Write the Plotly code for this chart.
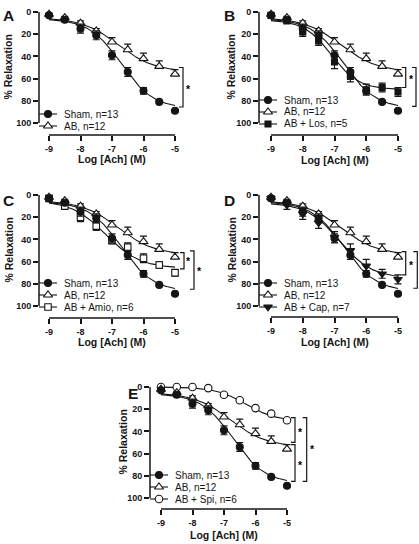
import numpy as np
import plotly.graph_objects as go

W, H = 419, 544
INK = "#151515"
FONT = "Liberation Sans, Arial, Helvetica, sans-serif"

# ---------------- data ----------------
LOG_ACH = [-9, -8.5, -8, -7.5, -7, -6.5, -6, -5.5, -5]
X_TICKS = [-9, -8, -7, -6, -5]
X_TICK_LABELS = ["-9", "-8", "-7", "-6", "-5"]
Y_TICKS = [0, 20, 40, 60, 80, 100]
Y_TICK_LABELS = ["0", "20", "40", "60", "80", "100"]

SHAM = [3, 7, 15, 21, 39, 54, 71, 81, 89]
SHAM_ERR = [1, 2, 4, 4, 4, 4, 3, 1, 1]
AB = [2, 5, 10, 17, 27, 34, 42, 49, 56]
AB_ERR = [1, 1, 2, 2, 4, 5, 5, 5, 4]
LOS = [3, 8, 18, 26, 45, 58, 70, 68, 72]
LOS_ERR = [1, 2, 4, 4, 6, 5, 5, 4, 4]
AMIO = [3, 10, 20, 28, 41, 47, 57, 63, 70]
AMIO_ERR = [1, 2, 4, 4, 3, 4, 4, 3, 3]
CAP = [3, 9, 17, 25, 38, 50, 64, 71, 76]
CAP_ERR = [2, 4, 5, 5, 5, 6, 6, 4, 4]
SPI = [0, 0, 0, 1, 7, 12, 19, 24, 30]
SPI_ERR = [1, 1, 1, 1, 1, 1, 1, 1, 1]

# sigmoidal fit parameters:
# [value at low conc, value at high conc, logEC50, hill slope]
SHAM_FIT = [6, 87, -6.71, 0.85]
AB_FIT = [5, 54, -6.8, 0.75]
LOS_FIT = [7, 70, -7.1, 1.0]
AMIO_FIT = [5, 66, -7.2, 0.8]
CAP_FIT = [7, 75, -6.85, 0.85]
SPI_FIT = [0, 31, -6.3, 0.9]

GROUPS = {
    "sham": dict(name="Sham, n=13", y=SHAM, err=SHAM_ERR, fit=SHAM_FIT,
                 symbol="circle", fill=INK, size=7, up_only=False),
    "ab": dict(name="AB, n=12", y=AB, err=AB_ERR, fit=AB_FIT,
               symbol="triangle-up", fill="white", size=8, up_only=True),
    "los": dict(name="AB + Los, n=5", y=LOS, err=LOS_ERR, fit=LOS_FIT,
                symbol="square", fill=INK, size=6, up_only=False),
    "amio": dict(name="AB + Amio, n=6", y=AMIO, err=AMIO_ERR, fit=AMIO_FIT,
                 symbol="square", fill="white", size=6.5, up_only=False),
    "cap": dict(name="AB + Cap, n=7", y=CAP, err=CAP_ERR, fit=CAP_FIT,
                symbol="triangle-down", fill=INK, size=7.5, up_only=False),
    "spi": dict(name="AB + Spi, n=6", y=SPI, err=SPI_ERR, fit=SPI_FIT,
                symbol="circle", fill="white", size=7.5, up_only=False),
}

# ---------------- layout (pixel geometry of each panel) ----------------
PANELS = [
    dict(letter="A", groups=["sham", "ab"], axis_px=39, xm9=49, xm5=175,
         y0=12, y100=123, xaxis_py=135, top=3, right=205,
         letter_xy=(8, 15), ytitle_x=8, xtitle_y=159,
         brackets=[(-4.746, 50, 85.6)], stars=[(-4.556, 69)]),
    dict(letter="B", groups=["sham", "ab", "los"], axis_px=259, xm9=271, xm5=398,
         y0=12, y100=123, xaxis_py=135, top=3, right=419,
         letter_xy=(229, 15), ytitle_x=231, xtitle_y=160,
         brackets=[(-4.757, 50, 68), (-4.433, 50, 85)], stars=[(-4.59, 60)]),
    dict(letter="C", groups=["sham", "ab", "amio"], axis_px=39, xm9=49, xm5=175,
         y0=195, y100=306, xaxis_py=318, top=186, right=205,
         letter_xy=(8, 200), ytitle_x=8, xtitle_y=342,
         brackets=[(-4.714, 52, 66.6), (-4.397, 50.4, 84.9)],
         stars=[(-4.556, 59.5), (-4.238, 68.5)]),
    dict(letter="D", groups=["sham", "ab", "cap"], axis_px=259, xm9=271, xm5=398,
         y0=195, y100=306, xaxis_py=317, top=186, right=419,
         letter_xy=(229.5, 200), ytitle_x=231, xtitle_y=342,
         brackets=[(-4.757, 51, 72), (-4.392, 51, 84)], stars=[(-4.59, 63)]),
    dict(letter="E", groups=["sham", "ab", "spi"], axis_px=150, xm9=161, xm5=287,
         y0=387, y100=498, xaxis_py=509, top=378, right=320,
         letter_xy=(133, 393), ytitle_x=122, xtitle_y=535,
         brackets=[(-4.746, 27.6, 49.8), (-4.746, 52, 85), (-4.375, 27.6, 85)],
         stars=[(-4.565, 40.6), (-4.565, 70.6), (-4.2, 55.7)]),
]

LEG_ROWS = {2: [102, 114], 3: [88, 100, 112]}


def px_x(p):
    return p / W


def px_y(p):
    return 1 - p / H


def logistic(x, p):
    lo, hi, c, h = p
    return lo + (hi - lo) / (1 + 10 ** ((c - x) * h))


fig = go.Figure()
layout = dict(
    width=W, height=H, margin=dict(l=0, r=0, t=0, b=0),
    paper_bgcolor="white", plot_bgcolor="rgba(0,0,0,0)", showlegend=False,
    font=dict(family=FONT, color=INK),
)
annotations = []
shapes = []
xgrid = np.linspace(-9, -5, 200)

for i, P in enumerate(PANELS, start=1):
    sfx = "" if i == 1 else str(i)
    xa, ya = "x" + sfx, "y" + sfx
    kx = (P["xm5"] - P["xm9"]) / 4.0
    ky = (P["y100"] - P["y0"]) / 100.0
    x_lo = -9 - (P["xm9"] - P["axis_px"]) / kx
    x_hi = -5 + (P["right"] - P["xm5"]) / kx
    y_top = 0 - (P["y0"] - P["top"]) / ky
    y_bot = 100 + (P["xaxis_py"] - P["y100"]) / ky

    layout["xaxis" + sfx] = dict(
        domain=[px_x(P["axis_px"]), px_x(P["right"])], range=[x_lo, x_hi],
        anchor=ya, showgrid=False, zeroline=False, showline=False,
        tickmode="array", tickvals=X_TICKS, ticktext=X_TICK_LABELS,
        ticks="outside", ticklen=5, tickwidth=1.5, tickcolor=INK,
        tickfont=dict(family=FONT, size=9, color=INK, weight="bold"),
        fixedrange=True,
    )
    layout["yaxis" + sfx] = dict(
        domain=[px_y(P["xaxis_py"]), px_y(P["top"])], range=[y_bot, y_top],
        anchor=xa, showgrid=False, zeroline=False, showline=False,
        tickmode="array", tickvals=Y_TICKS, ticktext=Y_TICK_LABELS,
        ticks="outside", ticklen=5, tickwidth=1.5, tickcolor=INK,
        tickfont=dict(family=FONT, size=9, color=INK, weight="bold"),
        fixedrange=True,
    )
    # Prism-style offset axis lines
    shapes.append(dict(type="line", xref=f"{xa} domain", yref=ya, x0=0, x1=0,
                       y0=0, y1=100, line=dict(color=INK, width=1.5)))
    shapes.append(dict(type="line", xref=xa, yref=f"{ya} domain", x0=-9, x1=-5,
                       y0=0, y1=0, line=dict(color=INK, width=1.5)))

    # fitted curves
    for g in P["groups"]:
        G = GROUPS[g]
        fig.add_trace(go.Scatter(
            x=xgrid, y=logistic(xgrid, G["fit"]), mode="lines",
            line=dict(color=INK, width=1.1), xaxis=xa, yaxis=ya,
            hoverinfo="skip"))
    # data points with error bars (draw in reverse so Sham is on top)
    for g in reversed(P["groups"]):
        G = GROUPS[g]
        if G["up_only"]:
            err = dict(type="data", symmetric=False, array=[0] * len(G["err"]),
                       arrayminus=G["err"], color=INK, thickness=1.2, width=3.5)
        else:
            err = dict(type="data", array=G["err"], color=INK, thickness=1.2,
                       width=3.5)
        fig.add_trace(go.Scatter(
            x=LOG_ACH, y=G["y"], mode="markers", name=G["name"],
            marker=dict(symbol=G["symbol"], size=G["size"], color=G["fill"],
                        line=dict(color=INK, width=1.1)),
            error_y=err, xaxis=xa, yaxis=ya, cliponaxis=False))

    # significance brackets
    stub = 4.0 / kx
    for bx, yt, yb in P["brackets"]:
        shapes.append(dict(
            type="path", xref=xa, yref=ya,
            path=f"M {bx - stub},{yt} L {bx},{yt} L {bx},{yb} L {bx - stub},{yb}",
            line=dict(color=INK, width=1.2)))
    for sx, sy in P["stars"]:
        annotations.append(dict(x=sx, y=sy, xref=xa, yref=ya, text="*",
                                showarrow=False, xanchor="center", yanchor="middle",
                                font=dict(family=FONT, size=10.5, color="black",
                                          weight="bold")))

    # panel letter
    lx, ly = P["letter_xy"]
    annotations.append(dict(x=px_x(lx), y=px_y(ly), xref="paper", yref="paper",
                            text=P["letter"], showarrow=False, xanchor="center",
                            yanchor="middle", borderpad=0,
                            font=dict(family=FONT, size=15.5, color=INK, weight="bold")))
    # axis titles
    annotations.append(dict(x=px_x(P["ytitle_x"]), y=px_y((P["y0"] + P["y100"]) / 2),
                            xref="paper", yref="paper", text="% Relaxation",
                            textangle=-90, showarrow=False, xanchor="center",
                            yanchor="middle",
                            font=dict(family=FONT, size=10.5, color=INK, weight="bold")))
    annotations.append(dict(x=px_x((P["xm9"] + P["xm5"]) / 2), y=px_y(P["xtitle_y"]),
                            xref="paper", yref="paper", text="Log [Ach] (M)",
                            showarrow=False, xanchor="center", yanchor="middle",
                            font=dict(family=FONT, size=10.5, color=INK, weight="bold")))

    # hand-drawn legend (compact rows like the original)
    rows = LEG_ROWS[len(P["groups"])]
    for g, r in zip(P["groups"], rows):
        G = GROUPS[g]
        ry = P["y0"] + r
        lx0 = P["axis_px"]
        fig.add_trace(go.Scatter(
            x=[lx0, lx0 + 18], y=[ry, ry], mode="lines",
            line=dict(color=INK, width=1.1), xaxis="x6", yaxis="y6",
            hoverinfo="skip", cliponaxis=False))
        fig.add_trace(go.Scatter(
            x=[lx0 + 9], y=[ry], mode="markers",
            marker=dict(symbol=G["symbol"], size=G["size"], color=G["fill"],
                        line=dict(color=INK, width=1.1)),
            xaxis="x6", yaxis="y6", hoverinfo="skip", cliponaxis=False))
        annotations.append(dict(x=px_x(lx0 + 23), y=px_y(ry), xref="paper",
                                yref="paper", text=G["name"], showarrow=False,
                                xanchor="left", yanchor="middle",
                                font=dict(family=FONT, size=10, color=INK)))

layout["xaxis6"] = dict(domain=[0, 1], range=[0, W], anchor="y6", visible=False,
                        fixedrange=True)
layout["yaxis6"] = dict(domain=[0, 1], range=[H, 0], anchor="x6", visible=False,
                        fixedrange=True)
layout["annotations"] = annotations
layout["shapes"] = shapes
fig.update_layout(**layout)
fig.write_html("out.html")
